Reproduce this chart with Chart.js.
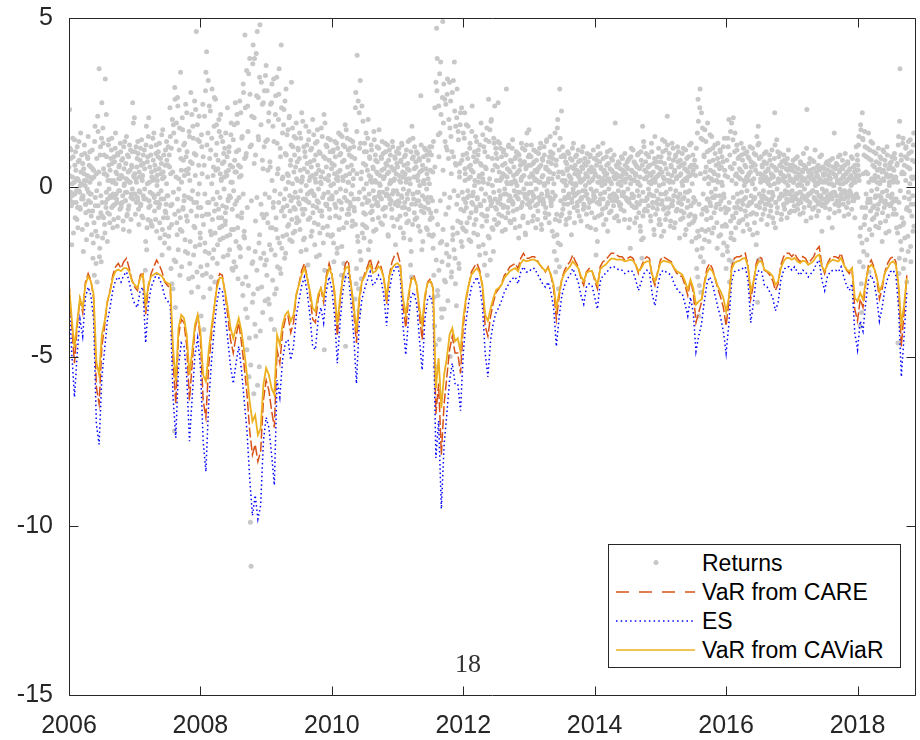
<!DOCTYPE html>
<html>
<head>
<meta charset="utf-8">
<script src="https://cdn.jsdelivr.net/npm/chart.js@4.4.1/dist/chart.umd.min.js"></script>
<style>
html,body{margin:0;padding:0;background:#fff;overflow:hidden;}
#wrap{position:relative;width:920px;height:740px;}
canvas{display:block;}
#legend{position:absolute;left:608px;top:544px;width:293px;height:124px;border:1px solid #262626;background:#fff;box-sizing:border-box;font-family:"Liberation Sans",Arial,sans-serif;font-size:23px;color:#000;}
#legend .t{position:absolute;left:93px;line-height:29px;white-space:nowrap;}
#legend svg{position:absolute;left:0;top:0;}
#pagenum{position:absolute;left:455px;top:651px;font-family:"Liberation Serif","Times New Roman",serif;font-size:26px;line-height:26px;color:#333;}
</style>
</head>
<body>
<div id="wrap">
<canvas id="c" width="920" height="740"></canvas>
<div id="legend">
  <svg width="291" height="122">
    <circle cx="47" cy="17.5" r="2.5" fill="#c8c8c8"/>
    <line x1="7" y1="47" x2="86" y2="47" stroke="#D95319" stroke-width="1.3" stroke-dasharray="13 10"/>
    <line x1="7" y1="76" x2="86" y2="76" stroke="#0000FF" stroke-width="1.5" stroke-dasharray="1.5 3.2"/>
    <line x1="7" y1="105" x2="86" y2="105" stroke="#EDB120" stroke-width="1.5"/>
  </svg>
  <div class="t" style="top:4px">Returns</div>
  <div class="t" style="top:33px">VaR from CARE</div>
  <div class="t" style="top:62px">ES</div>
  <div class="t" style="top:91px">VaR from CAViaR</div>
</div>
<div id="pagenum">18</div>
</div>
<script>
// ---------- data ----------
const xTicks = [2006, 2008, 2010, 2012, 2014, 2016, 2018];
const yTicks = [-15, -10, -5, 0, 5];
const xMin = 2006, xMax = 2018.89;
const lineStart = 2006, linePerYear = 24;     // semi-monthly readings of the risk lines
const retStart = 2006, retPerYear = 96;       // returns sets A and B, about two per week each
const retCPerYear = 48;                       // returns set C, about one per week

const caviar = [
-2.88,-3.87,-4.75,-3.96,-3.27,-3.57,-2.88,-2.63,-2.78,-3.17,
-5.15,-5.54,-4.36,-3.96,-3.37,-3.08,-2.68,-2.48,-2.43,-2.48,
-2.39,-2.39,-2.48,-2.78,-2.88,-2.98,-2.68,-2.58,-3.47,-2.88,
-2.63,-2.58,-2.53,-2.58,-2.63,-2.78,-2.83,-2.88,-4.75,-5.74,
-4.16,-3.77,-3.87,-4.36,-5.54,-4.85,-4.06,-3.77,-4.26,-5.54,
-5.74,-4.85,-4.16,-3.57,-2.98,-2.68,-2.68,-3.08,-3.57,-4.16,
-4.46,-4.16,-3.87,-4.26,-4.85,-5.54,-6.33,-6.92,-6.73,-7.32,
-7.12,-5.84,-5.34,-5.54,-5.94,-6.13,-4.36,-4.65,-4.06,-3.77,
-3.67,-3.96,-3.77,-3.17,-2.88,-2.58,-2.39,-2.68,-3.08,-3.57,
-3.67,-3.17,-2.98,-3.27,-2.68,-2.39,-2.58,-3.08,-4.06,-3.27,
-2.68,-2.39,-2.34,-2.88,-3.47,-4.26,-3.27,-2.78,-2.63,-2.43,
-2.29,-2.53,-2.48,-2.34,-2.43,-2.68,-3.27,-2.63,-2.39,-2.29,
-2.24,-2.34,-3.27,-3.77,-3.17,-2.73,-2.68,-2.88,-3.57,-4.06,
-3.17,-2.83,-2.78,-2.98,-5.94,-5.05,-6.53,-5.54,-5.05,-4.36,
-4.16,-4.55,-4.46,-4.85,-3.87,-3.27,-2.88,-2.58,-2.48,-2.39,
-2.53,-2.88,-3.77,-3.95,-3.57,-3.27,-3.03,-2.98,-2.88,-2.68,
-2.58,-2.48,-2.43,-2.39,-2.48,-2.24,-2.14,-2.19,-2.17,-2.14,
-2.14,-2.19,-2.29,-2.39,-2.48,-2.39,-2.58,-2.88,-3.57,-3.12,
-2.73,-2.53,-2.43,-2.34,-2.19,-2.29,-2.39,-2.63,-2.78,-2.53,
-2.48,-2.48,-2.68,-2.88,-2.43,-2.34,-2.29,-2.19,-2.11,-2.11,
-2.14,-2.14,-2.14,-2.19,-2.17,-2.14,-2.17,-2.29,-2.48,-2.39,
-2.24,-2.19,-2.19,-2.58,-2.78,-2.53,-2.24,-2.17,-2.19,-2.21,
-2.24,-2.39,-2.48,-2.53,-2.58,-2.78,-3.03,-2.73,-2.98,-3.47,
-3.37,-3.32,-2.88,-2.53,-2.39,-2.48,-2.68,-2.93,-3.08,-3.27,
-3.67,-3.27,-2.43,-2.24,-2.19,-2.17,-2.11,-2.09,-2.34,-3.08,
-2.78,-2.34,-2.19,-2.19,-2.43,-2.48,-2.53,-2.63,-2.88,-2.78,
-2.39,-2.19,-2.09,-2.09,-2.14,-2.09,-2.19,-2.24,-2.17,-2.19,
-2.29,-2.24,-2.17,-2.04,-1.99,-2.34,-2.48,-2.29,-2.19,-2.14,
-2.17,-2.19,-2.09,-2.29,-2.43,-2.48,-2.39,-3.27,-3.37,-3.12,
-3.32,-2.78,-2.39,-2.29,-2.39,-2.63,-3.08,-2.88,-2.53,-2.39,
-2.24,-2.19,-2.29,-2.88,-4.06,-3.47,-2.68
];

const care = [
-2.80,-4.10,-5.20,-4.10,-3.30,-3.70,-2.80,-2.55,-2.75,-3.30,
-5.90,-6.40,-4.70,-4.10,-3.40,-3.05,-2.60,-2.35,-2.25,-2.40,
-2.20,-2.10,-2.40,-2.75,-2.95,-3.05,-2.60,-2.50,-3.75,-2.95,
-2.55,-2.35,-2.15,-2.30,-2.50,-2.80,-2.90,-3.00,-5.10,-6.40,
-4.40,-3.90,-4.00,-4.70,-6.30,-5.20,-4.20,-3.80,-4.50,-6.30,
-6.80,-5.30,-4.40,-3.60,-2.90,-2.55,-2.60,-3.15,-3.80,-4.50,
-4.90,-4.40,-4.00,-4.60,-5.30,-6.10,-7.20,-7.90,-7.60,-8.10,
-7.80,-6.30,-5.70,-6.00,-6.60,-7.10,-4.80,-5.20,-4.30,-3.90,
-3.80,-4.30,-4.00,-3.20,-2.85,-2.45,-2.25,-2.65,-3.20,-3.90,
-4.00,-3.30,-3.00,-3.40,-2.60,-2.25,-2.55,-3.20,-4.40,-3.40,
-2.65,-2.25,-2.15,-2.90,-3.70,-4.60,-3.40,-2.80,-2.55,-2.35,
-2.10,-2.45,-2.40,-2.20,-2.35,-2.70,-3.45,-2.60,-2.20,-2.00,
-1.95,-2.25,-3.50,-4.15,-3.30,-2.70,-2.60,-2.90,-3.80,-4.50,
-3.30,-2.80,-2.70,-3.00,-6.70,-5.80,-7.90,-6.40,-5.60,-4.80,
-4.40,-4.90,-4.90,-5.50,-4.10,-3.35,-2.90,-2.50,-2.35,-2.25,
-2.45,-2.95,-4.10,-4.40,-3.80,-3.40,-3.10,-3.00,-2.85,-2.60,
-2.50,-2.35,-2.30,-2.25,-2.40,-2.10,-1.95,-2.10,-2.10,-2.05,
-2.05,-2.15,-2.30,-2.40,-2.50,-2.35,-2.60,-3.00,-3.90,-3.25,
-2.70,-2.45,-2.30,-2.20,-2.00,-2.20,-2.35,-2.70,-2.90,-2.50,
-2.40,-2.45,-2.75,-3.00,-2.35,-2.20,-2.15,-2.05,-1.95,-1.95,
-2.00,-2.05,-2.05,-2.15,-2.10,-2.05,-2.10,-2.30,-2.55,-2.35,
-2.15,-2.05,-2.10,-2.65,-2.90,-2.50,-2.15,-2.05,-2.10,-2.15,
-2.20,-2.40,-2.55,-2.60,-2.65,-2.90,-3.20,-2.75,-3.10,-4.00,
-3.70,-3.40,-2.85,-2.40,-2.25,-2.40,-2.70,-3.00,-3.25,-3.55,
-4.10,-3.40,-2.35,-2.10,-2.05,-2.05,-2.00,-1.95,-2.30,-3.30,
-2.85,-2.25,-2.05,-2.10,-2.45,-2.50,-2.60,-2.75,-3.05,-2.85,
-2.30,-2.05,-1.95,-1.95,-2.05,-1.95,-2.10,-2.20,-2.05,-2.10,
-2.25,-2.15,-2.05,-1.85,-1.75,-2.30,-2.55,-2.25,-2.10,-2.05,
-2.05,-2.10,-1.95,-2.25,-2.45,-2.55,-2.40,-3.60,-3.95,-3.30,
-3.55,-2.85,-2.30,-2.15,-2.35,-2.70,-3.30,-3.00,-2.50,-2.25,
-2.10,-2.05,-2.20,-3.00,-4.70,-3.70,-2.60
];

const es = [
-3.30,-4.90,-6.20,-4.90,-3.90,-4.40,-3.25,-2.95,-3.20,-3.90,
-7.00,-7.60,-5.60,-4.80,-3.95,-3.55,-3.05,-2.75,-2.65,-2.80,
-2.60,-2.50,-2.80,-3.20,-3.45,-3.55,-3.05,-2.95,-4.60,-3.45,
-2.95,-2.75,-2.55,-2.70,-2.90,-3.25,-3.35,-3.50,-6.20,-7.40,
-5.30,-4.60,-4.70,-5.60,-7.50,-6.20,-4.95,-4.45,-5.30,-7.50,
-8.40,-6.40,-5.20,-4.20,-3.40,-3.00,-3.05,-3.70,-4.50,-5.30,
-5.80,-5.20,-4.70,-5.40,-6.30,-7.20,-8.60,-9.70,-9.10,-9.80,
-9.40,-7.50,-6.80,-7.10,-7.90,-8.80,-5.70,-6.20,-5.10,-4.60,
-4.50,-5.10,-4.70,-3.80,-3.35,-2.90,-2.65,-3.10,-3.80,-4.70,
-4.80,-3.90,-3.55,-4.00,-3.05,-2.65,-3.00,-3.80,-5.20,-4.00,
-3.10,-2.65,-2.55,-3.40,-4.40,-5.80,-4.00,-3.30,-3.00,-2.75,
-2.50,-2.90,-2.80,-2.60,-2.75,-3.20,-4.10,-3.05,-2.60,-2.40,
-2.30,-2.65,-4.10,-4.95,-3.90,-3.20,-3.10,-3.45,-4.50,-5.40,
-3.90,-3.30,-3.20,-3.55,-8.00,-6.90,-9.50,-7.60,-6.70,-5.70,
-5.20,-5.80,-5.80,-6.60,-4.90,-3.95,-3.40,-2.95,-2.80,-2.65,
-2.90,-3.50,-4.90,-5.60,-4.50,-4.00,-3.70,-3.55,-3.35,-3.10,
-2.95,-2.80,-2.70,-2.65,-2.85,-2.50,-2.35,-2.50,-2.50,-2.40,
-2.40,-2.55,-2.70,-2.85,-2.95,-2.80,-3.10,-3.55,-4.70,-3.85,
-3.20,-2.90,-2.70,-2.60,-2.40,-2.60,-2.80,-3.20,-3.45,-2.95,
-2.85,-2.90,-3.25,-3.60,-2.80,-2.60,-2.55,-2.45,-2.35,-2.35,
-2.40,-2.45,-2.45,-2.55,-2.50,-2.45,-2.50,-2.75,-3.05,-2.80,
-2.55,-2.45,-2.50,-3.15,-3.50,-2.95,-2.55,-2.45,-2.50,-2.55,
-2.60,-2.85,-3.00,-3.10,-3.15,-3.45,-3.80,-3.25,-3.70,-4.85,
-4.40,-4.05,-3.40,-2.85,-2.65,-2.85,-3.20,-3.55,-3.85,-4.25,
-4.90,-4.05,-2.80,-2.50,-2.45,-2.45,-2.40,-2.35,-2.75,-4.00,
-3.40,-2.65,-2.45,-2.50,-2.90,-2.95,-3.10,-3.25,-3.65,-3.40,
-2.75,-2.45,-2.35,-2.35,-2.45,-2.35,-2.50,-2.60,-2.45,-2.50,
-2.65,-2.55,-2.45,-2.25,-2.15,-2.75,-3.05,-2.65,-2.50,-2.45,
-2.45,-2.50,-2.35,-2.65,-2.90,-3.05,-2.85,-4.30,-4.80,-3.95,
-4.25,-3.40,-2.75,-2.60,-2.80,-3.25,-3.95,-3.55,-3.00,-2.70,
-2.50,-2.45,-2.60,-3.55,-5.60,-4.40,-3.10
];

// returns read on one set of days (A), on the days in between (B) and one more set (C)
const returnsA = [
0.6,2.3,-0.4,1.1,-1.7,0.3,0.9,-0.2,1.4,-0.9,0.5,-0.1,1.2,-1.2,0.2,0.8,-0.6,1.6,0.1,-0.3,0.7,-1.9,0.4,1.0,-0.5,0.2,-1.1,0.9,1.5,-0.7,0.3,-0.2,0.6,-1.4,1.1,-2.1,0.5,-2.6,1.8,-1.3,0.4,-2.8,2.1,-0.9,3.5,-1.8,1.2,-2.2,
2.5,-1.5,1.3,0.4,-1.1,3.2,-0.6,0.9,-1.6,0.2,1.4,-0.8,0.5,-0.3,1.1,0.7,-1.2,0.2,0.9,-0.5,1.6,-0.2,0.4,1.0,-0.9,0.6,-0.1,1.3,-0.6,0.8,0.3,-1.0,1.2,0.1,-0.4,0.7,1.5,-0.8,0.2,0.9,-1.3,0.5,1.1,-0.2,0.6,2.5,1.9,0.3,
0.4,-0.8,1.2,0.6,-0.3,1.0,-1.1,0.3,0.8,-0.5,1.4,0.2,-0.9,0.7,1.1,-3.4,-1.6,1.8,-1.2,0.9,1.5,-0.4,0.6,-1.0,1.2,0.3,-0.2,0.8,1.6,-0.7,0.5,1.0,-1.3,0.2,0.9,-0.6,1.3,-1.5,0.4,0.7,-2.0,1.7,-0.9,0.3,-1.4,1.1,-0.5,0.8,
-0.9,1.2,-1.8,0.6,1.5,-2.4,-1.1,2.0,-3.0,1.6,-7.2,2.6,-2.2,1.9,-1.4,2.4,-0.7,1.1,-2.6,3.4,0.5,-1.3,1.7,0.8,-0.4,1.3,-1.9,0.9,2.2,-1.0,0.4,-2.7,1.5,-1.6,2.8,-3.1,0.7,1.8,-2.0,1.0,-1.2,2.3,4.6,-2.5,1.4,-0.6,2.1,-1.7,
-1.5,-3.8,1.2,-2.6,0.9,-4.2,2.1,-1.9,3.4,4.0,-2.3,1.6,-0.8,2.4,-3.0,1.1,-1.4,2.9,-2.1,0.6,1.8,-2.8,2.6,-0.5,1.3,-1.7,0.8,2.0,-1.2,0.4,1.5,-0.9,0.7,-1.5,1.0,0.3,-1.1,1.6,-0.6,0.9,-2.0,0.5,1.2,-1.4,-0.3,1.9,-2.4,0.6,
1.4,-2.2,0.8,2.5,-1.6,-0.4,1.9,-2.7,1.1,0.3,-1.8,2.2,-0.9,1.5,-3.2,2.8,-1.3,4.5,-3.6,1.0,-4.8,2.4,-2.9,-5.6,3.8,-9.9,-11.2,2.1,-3.4,4.2,-6.1,3.8,-1.9,-4.4,2.7,4.6,-3.0,1.4,-5.3,4.8,-2.1,3.1,-0.8,-3.7,2.5,1.2,-2.3,3.3,
3.6,-2.6,1.4,-3.3,2.2,-1.7,0.6,-3.9,2.5,-1.2,1.8,3.2,-4.2,-2.0,2.7,-3.0,1.3,-1.5,2.0,3.5,-2.4,0.9,4.2,-1.8,1.6,-0.6,2.3,-2.1,1.0,2.9,-1.4,0.4,1.7,-1.1,2.1,-0.7,0.8,3.1,-1.6,1.2,-0.3,1.5,-1.3,0.6,1.9,-0.9,0.2,1.1,
-1.0,1.6,0.5,-1.9,2.2,0.3,-0.8,1.2,-1.5,0.9,1.8,-0.4,0.7,-2.3,1.4,0.2,-0.9,1.1,0.6,-1.3,2.0,-0.2,0.8,-1.7,1.3,0.4,-0.6,1.7,-1.1,0.5,-2.0,1.0,0.3,-0.7,1.5,-1.2,0.9,-4.8,1.9,-0.5,0.6,1.2,-1.4,0.2,0.8,-0.9,1.4,-0.3,
0.7,-1.4,1.1,-2.2,0.4,0.9,-0.6,1.3,-1.8,0.2,1.6,-0.9,0.5,1.0,-2.6,1.5,0.3,-1.2,0.8,1.2,-4.7,1.7,-0.4,0.6,1.1,-0.8,0.4,1.4,-0.2,0.9,-1.0,0.5,1.2,-0.7,-3.3,2.8,-2.4,3.9,-1.6,-3.0,2.2,-1.9,1.3,-2.7,2.4,-1.1,0.7,-1.5,
1.3,-0.8,1.6,-1.2,0.5,2.0,-0.4,0.9,-1.6,0.3,1.1,-0.7,0.6,-1.3,1.4,0.2,0.8,-0.5,1.2,0.4,-0.9,1.7,0.1,-0.3,0.9,0.5,-1.1,1.0,0.3,-0.6,1.3,0.7,-0.2,0.4,-1.4,0.8,1.1,-0.5,0.2,0.6,-0.9,1.2,-0.1,0.5,0.9,-1.7,0.4,0.7,
0.6,-0.4,1.0,0.2,-1.2,0.8,1.3,-0.6,0.3,-1.5,0.9,0.4,-0.8,1.1,-0.2,0.7,-1.0,0.5,1.4,-2.3,-1.9,1.8,-1.1,0.9,0.3,1.2,-0.5,0.6,-0.9,1.0,0.2,-0.4,0.8,-1.3,2.7,-0.7,0.5,-1.6,0.9,0.1,-0.6,1.1,-1.2,0.4,-0.3,0.8,-1.4,1.2,
0.5,-0.9,1.2,-0.4,-1.8,-2.6,-4.1,-5.3,3.1,4.7,3.8,-3.2,2.4,-4.5,1.6,3.7,-3.6,-2.2,4.9,1.9,-3.6,2.6,-2.8,1.2,-1.7,3.2,-2.3,2.0,3.1,-5.0,1.5,-2.5,2.8,-1.4,0.9,3.7,-2.1,1.8,-3.5,2.9,-1.0,1.4,-2.4,0.7,2.2,-1.6,0.8,-1.2,
1.6,-0.7,2.2,0.4,-1.3,1.0,-0.3,1.8,0.6,-0.9,1.3,-1.6,0.5,2.4,-0.5,0.9,-1.1,0.2,1.5,-0.6,0.8,-1.4,1.1,0.3,-2.0,0.7,1.9,-0.8,0.4,-1.7,1.2,-2.3,0.6,1.4,-1.0,-2.6,0.9,2.6,-1.5,1.7,-0.4,2.0,-1.2,0.5,-1.9,1.3,2.4,-0.6,
1.0,-1.1,0.6,2.5,-0.8,1.3,0.2,-0.5,0.9,-1.3,0.4,1.1,-0.2,0.7,-0.9,2.9,0.3,-0.6,1.2,0.5,-1.0,0.8,0.1,-0.4,1.4,-0.7,0.6,0.2,-1.2,0.9,0.4,-0.3,1.0,-1.5,0.5,0.8,-0.6,1.3,0.3,-0.9,0.7,-0.2,1.1,-1.4,0.6,1.6,-0.5,0.9,
1.7,0.3,-0.6,0.9,0.4,-1.0,0.7,1.1,-0.3,0.5,-1.2,0.8,0.2,-0.7,1.0,0.6,-0.4,1.3,-1.1,0.3,0.8,-0.5,1.2,0.1,-0.9,0.6,1.4,-0.2,0.5,-0.8,0.9,1.5,-0.4,0.7,-1.3,1.0,0.4,-1.9,1.6,-2.5,0.8,-1.4,2.0,-3.0,1.1,2.9,-1.7,0.9,
-0.8,1.2,0.4,-0.5,0.9,0.2,-1.1,0.7,0.5,-0.3,1.0,-0.9,0.3,0.6,-1.4,0.8,0.1,1.3,-0.6,0.4,0.9,-0.2,0.5,-0.7,1.1,0.3,-0.4,0.8,-1.0,0.6,0.2,1.2,-0.5,0.7,-0.1,0.4,-0.8,1.0,0.3,-0.6,0.5,0.9,-1.2,0.6,0.2,-0.4,1.1,0.5,
-0.9,0.4,-2.0,0.8,-1.6,1.2,0.3,-0.5,1.0,0.6,-0.8,0.2,1.3,-1.1,0.5,0.1,-0.6,0.9,0.4,-1.3,0.7,0.2,-0.3,1.1,-0.7,0.5,0.8,-0.2,0.3,-0.9,1.9,0.4,-0.4,0.6,0.1,-1.0,0.7,0.3,-0.5,0.9,-0.2,0.5,0.2,-0.7,1.0,-0.3,0.4,0.6,
-0.4,0.8,-1.2,0.3,-1.8,0.9,0.5,-0.3,1.1,0.2,-0.6,0.7,0.4,-0.9,0.6,0.1,1.0,-0.5,0.3,-1.3,0.8,-2.1,1.8,-1.5,1.2,0.5,-0.4,1.0,0.3,-0.7,0.6,0.9,-0.2,0.4,-1.0,1.3,0.2,-0.6,0.7,-1.4,1.5,-0.8,0.3,0.6,-0.5,0.9,-1.1,0.4,
-1.1,0.9,-0.5,1.4,0.3,-1.3,0.7,-0.2,1.1,-0.8,2.1,0.4,-0.6,1.0,0.2,-1.0,0.6,1.3,-0.4,0.8,-1.2,0.5,0.9,-0.7,0.3,1.2,-0.3,0.6,-1.5,0.8,0.4,-0.5,1.0,-0.9,0.2,0.7,-1.4,1.1,0.5,-0.6,0.3,0.9,-1.1,0.6,-0.8,1.3,-1.6,0.4,
0.5,-1.0,0.8,-0.4,-1.5,-2.4,1.6,2.6,-3.8,-2.9,2.9,-3.1,2.2,-1.8,1.4,-2.2,0.9,1.7,-1.3,0.6,-0.7,1.9,0.3,-1.6,1.1,0.5,-0.9,1.5,-0.3,0.8,-1.2,0.4,1.0,-0.6,0.2,-1.8,1.3,0.7,-0.5,1.1,-1.4,0.6,0.9,-2.0,1.2,-0.3,0.5,-1.1,
-2.4,0.8,-1.9,1.2,2.0,-2.8,0.6,-1.5,1.9,-2.2,1.4,-0.9,0.7,1.6,-1.2,0.4,1.1,-0.6,0.3,0.9,-1.0,0.5,1.3,-0.4,0.8,-1.3,0.2,1.0,-0.7,0.6,0.3,-1.1,0.9,0.4,-0.5,1.2,-0.8,0.6,0.2,-1.4,0.7,1.0,-0.3,0.5,-1.7,1.5,-3.4,1.8,
1.3,-0.6,0.4,0.9,-0.3,0.6,-0.8,0.2,1.0,-0.5,0.3,0.7,-1.1,0.5,0.1,-0.4,0.8,-0.7,0.4,1.1,-0.9,0.3,0.6,2.2,-1.2,0.5,1.4,-0.6,0.2,0.9,-0.3,1.0,0.4,-0.8,0.6,0.2,-0.5,0.8,0.3,-0.2,0.7,-0.9,0.5,1.1,-0.4,0.2,0.6,-0.7,
0.5,-0.4,0.8,0.2,-0.7,0.6,0.3,-0.2,0.9,-0.5,0.4,0.1,-0.8,0.7,0.3,-0.3,0.5,1.0,-0.6,0.2,0.6,-1.0,2.3,-0.4,0.3,0.7,-0.2,0.5,-0.9,0.4,0.8,-0.1,0.2,-0.6,1.1,0.3,-0.4,0.6,0.1,-0.7,0.5,0.9,-0.3,0.2,-1.3,0.6,0.4,-0.5,
0.4,-0.6,0.7,0.2,-0.3,0.5,-0.9,0.3,0.8,-0.2,0.1,-1.2,0.6,0.4,1.6,-0.5,0.3,0.7,-0.4,0.2,0.9,-0.7,0.5,0.1,-0.3,0.6,0.8,-0.5,0.3,-0.1,1.0,0.4,-0.6,0.2,0.7,-0.8,0.5,0.3,-0.2,0.9,0.1,-0.4,0.6,0.2,-0.9,0.5,1.2,0.3,
0.8,0.5,1.5,-2.2,-4.1,1.7,-3.7,2.2,1.4,-1.9,-1.1,1.2,-0.6,0.9,-2.0,0.4,1.6,-2.5,1.1,-0.7,0.8,-1.4,1.3,0.2,-0.9,0.6,-0.3,1.0,-0.8,0.5,0.3,-1.2,0.7,0.9,-0.4,0.2,-1.6,1.1,0.5,-0.6,0.8,-1.0,0.4,1.2,-0.5,0.3,-1.3,0.7,
0.6,-0.3,0.9,0.2,-0.8,0.5,1.0,-0.4,0.3,-1.2,0.7,-4.6,1.5,-2.1,3.5,-1.6,0.8,-0.9,1.3,-2.4,0.4,-1.5,0.9,1.2,-2.8,0.6,-1.9,1.0,-0.7,1.4,-2.2,0.3,0.8,-1.3,1.6,-0.5
];

const returnsB = [
0.35,1.15,0.85,-0.55,-0.25,1.45,-1.35,0.15,0.65,1.05,-0.45,-0.95,0.25,0.75,1.35,-0.15,-0.65,0.45,0.95,-1.25,-0.35,0.55,1.25,0.05,-0.75,-1.55,0.35,0.85,-0.15,0.65,1.05,-0.45,-0.85,0.25,0.55,-1.65,-1.05,1.35,-0.55,-2.25,0.85,-1.45,1.65,0.45,-2.05,0.95,-0.75,1.45,
-0.85,1.75,0.55,0.95,-1.35,-0.45,2.15,0.35,-0.75,1.25,0.65,-1.05,-0.25,0.85,1.45,0.15,-0.55,-0.95,0.75,1.15,0.45,-0.35,-1.15,0.95,0.25,0.65,-0.65,1.05,0.35,-0.45,0.85,-1.25,0.55,1.35,-0.15,0.25,-0.85,0.95,0.45,-0.55,1.25,0.15,-0.95,0.65,1.05,-0.35,0.35,2.05,
1.05,0.25,-0.45,0.85,1.35,-0.65,0.45,-0.15,1.15,0.65,-0.85,0.35,0.95,-0.35,0.55,-2.45,1.25,-1.85,0.75,-0.95,2.05,0.15,-0.55,0.95,0.45,-1.15,1.45,0.25,-0.25,0.65,-0.95,1.25,0.35,-0.45,1.05,0.55,-1.05,0.85,-0.35,1.55,-1.25,0.45,0.95,-1.65,0.65,-0.75,1.35,-0.25,
0.65,-1.45,0.95,2.35,-0.55,1.15,-2.85,0.45,1.85,-2.15,2.95,-3.55,1.35,-1.05,2.65,-1.85,0.25,1.75,-1.25,0.85,-2.35,2.05,-0.65,1.25,0.35,-1.55,2.45,-0.85,1.05,-1.95,0.55,1.65,-2.25,0.75,-0.35,2.15,-2.65,1.45,-1.15,2.55,-1.75,0.95,-0.45,1.85,-2.95,0.65,1.35,-1.35,
-2.35,1.55,-0.85,2.45,-3.25,0.65,-1.65,2.85,-2.55,1.25,-0.45,3.15,-1.95,0.85,2.25,-2.65,1.45,-0.95,0.35,-1.85,2.65,-1.35,0.95,1.85,-2.25,0.55,-0.65,1.65,-1.55,2.15,0.25,-1.15,1.35,-2.05,0.75,1.15,-0.75,0.45,-1.45,2.35,-0.35,1.05,-1.85,0.65,1.55,-1.25,0.15,-2.45,
-1.25,1.85,0.45,-2.35,1.05,2.15,-0.85,0.65,-1.75,2.55,-2.05,0.35,1.45,-2.85,3.05,-1.45,0.85,2.35,-2.65,3.45,-3.85,1.65,3.35,-4.45,2.75,-5.25,1.25,-2.25,3.65,-3.15,2.05,-4.05,0.95,3.95,-2.45,-5.85,2.65,-1.65,3.25,-4.25,1.85,-2.95,2.45,0.55,-1.95,2.85,-3.35,1.35,
-2.15,2.85,-1.05,1.95,-3.45,0.75,2.45,-1.85,3.05,-2.75,-0.45,1.35,-3.15,2.15,-1.25,3.25,-2.35,0.55,2.75,-1.65,1.15,-2.55,2.35,0.25,-1.45,1.85,-0.85,2.55,-1.95,0.95,1.55,-1.15,0.35,2.05,-1.55,0.65,1.25,-0.95,1.75,-1.35,0.45,0.95,-0.65,1.45,-1.05,0.75,1.15,-0.45,
0.85,-1.25,1.45,0.15,-0.65,1.95,-1.55,0.55,1.05,-0.35,-1.85,1.25,0.45,-0.95,1.65,-0.15,0.75,-1.45,1.15,0.35,-0.75,1.55,-1.05,0.25,0.95,-2.05,1.35,0.65,-0.45,1.05,-1.35,0.15,1.75,-0.85,0.45,-1.65,2.15,-2.45,0.85,1.25,-0.55,-1.15,1.45,0.35,-0.65,1.05,-1.45,0.55,
-0.35,1.05,-1.65,0.65,1.35,-0.85,0.25,-1.95,1.15,0.45,-1.25,0.95,1.55,-0.45,-1.75,0.75,1.25,-2.25,-2.65,1.85,0.35,-1.05,1.45,0.15,-0.65,0.95,1.15,-0.55,0.65,-1.15,1.35,0.25,-0.35,0.85,2.35,-2.85,1.65,-1.45,2.55,-3.65,1.15,3.15,-2.15,0.45,-1.35,1.95,-0.75,1.05,
-1.15,0.65,1.05,-0.45,1.45,-1.85,0.35,0.85,-0.75,1.25,0.15,-0.95,0.55,1.65,-0.35,0.95,-1.25,0.45,0.75,-0.55,1.15,-0.15,0.35,-1.05,0.85,1.35,-0.65,0.25,0.55,-0.85,1.05,-0.25,0.65,1.25,-1.45,0.45,-0.35,0.95,0.15,-0.65,1.35,0.55,-1.15,0.25,0.85,-0.45,1.05,-0.95,
-0.55,1.15,0.35,-0.85,0.75,-0.25,1.25,0.45,-1.35,0.65,-0.45,0.95,0.15,-1.05,0.55,1.35,-0.65,0.25,-1.55,1.05,-2.65,0.85,1.45,-0.35,0.55,-0.95,0.75,1.05,-0.15,0.35,-1.15,0.85,0.45,-0.55,1.25,-1.85,0.65,0.15,-0.75,1.15,-0.35,0.55,0.95,-1.25,0.25,-0.65,1.05,-0.95,
-0.75,0.95,-1.45,0.45,1.35,-3.25,2.35,-4.65,-2.15,2.85,-3.05,1.55,-2.45,3.35,-1.65,2.15,-3.85,2.65,-1.25,3.05,-2.75,1.35,2.45,-1.95,2.75,-3.35,0.85,-2.05,1.75,2.55,-2.65,1.05,-1.55,3.15,-1.85,2.25,-2.85,0.65,2.05,-1.35,1.65,-2.25,0.45,1.85,-1.05,2.35,-1.75,0.95,
-1.25,1.45,0.55,-0.45,1.85,-1.05,0.85,0.25,-1.55,1.15,0.65,-0.75,1.65,-0.25,0.45,-1.35,1.05,0.75,-0.95,1.35,-0.35,0.95,-1.75,0.35,1.25,-0.55,0.65,-1.15,1.55,0.15,-0.85,1.05,-1.95,0.55,1.75,-0.65,-1.45,1.35,0.25,-2.15,1.95,-0.45,0.85,-1.25,1.45,-0.95,0.65,1.15,
-0.65,0.85,1.35,-1.05,0.45,-0.35,1.15,0.25,-0.85,0.65,1.05,-0.55,0.35,-1.25,0.95,0.15,0.55,-0.75,1.25,-0.25,0.45,-1.05,0.75,1.15,-0.45,0.35,-0.95,0.85,0.15,1.05,-0.65,0.45,-0.15,0.95,-1.15,0.65,0.25,-0.55,1.15,-0.85,0.35,0.75,-1.35,0.55,1.25,-0.35,-1.05,0.65,
0.95,-0.45,0.65,1.25,-0.15,0.35,-0.85,0.75,0.25,-0.55,1.05,0.45,-0.95,0.55,0.15,1.15,-0.35,0.65,-1.25,0.85,0.35,-0.45,0.95,-0.75,0.55,1.35,-0.25,0.15,0.75,-1.05,0.45,1.05,-0.55,0.25,0.85,-0.35,-1.45,1.25,-0.95,0.65,-2.15,1.75,-1.65,0.45,-2.35,1.45,-0.85,2.25,
0.45,-0.65,0.95,0.15,-0.35,0.75,-0.95,0.55,1.05,-0.25,0.35,-0.75,0.85,0.25,-0.45,1.15,-0.15,0.55,-1.05,0.65,0.05,0.95,-0.55,0.35,0.75,-0.85,0.45,0.15,-0.35,1.05,0.55,-0.65,0.25,0.85,-0.25,0.65,0.35,-1.15,0.75,0.15,-0.45,0.95,0.45,-0.75,0.55,0.25,-0.15,0.85,
0.35,-1.25,0.65,-0.45,0.95,-0.85,0.15,0.75,-0.35,0.55,0.25,-0.65,0.85,0.45,-0.15,0.35,-0.95,0.65,1.05,-0.45,0.25,-0.75,0.55,0.15,0.85,-0.35,0.45,-0.55,0.95,0.25,-0.25,0.65,-0.85,0.35,0.75,-0.45,0.15,0.55,-0.65,0.35,0.85,-0.15,0.45,-0.95,0.65,0.25,-0.35,0.75,
0.55,-0.35,0.85,-0.95,0.25,1.15,-0.55,0.45,-0.25,0.75,-1.05,0.35,0.65,-0.45,0.95,0.15,-0.75,0.55,-1.15,1.05,-1.55,0.65,-0.85,1.35,0.25,-0.65,0.75,0.45,-0.35,0.95,-0.55,0.15,0.65,-0.85,0.35,1.05,-0.25,0.45,-1.25,0.85,0.25,-0.45,0.75,-0.65,0.35,1.15,-0.95,0.55,
0.75,-1.45,0.45,1.05,-0.65,0.25,1.35,-0.95,0.55,-0.35,1.25,-0.75,0.85,0.15,-1.15,0.65,0.35,-0.55,1.15,-0.25,0.45,-1.05,0.95,0.25,-0.65,0.75,1.05,-0.45,0.35,-0.95,0.65,0.15,-0.35,1.15,-0.75,0.55,0.25,-1.25,0.85,-0.15,0.45,-0.85,1.25,0.35,-0.55,0.65,-1.05,0.95,
-0.45,0.65,-0.85,0.35,1.15,-1.85,-2.65,1.95,-1.45,2.35,-2.05,1.45,-1.25,1.75,-0.65,0.95,-1.55,0.45,1.35,-0.95,1.05,-0.35,-1.25,0.75,1.55,-0.55,0.25,-1.35,1.15,0.45,-0.75,1.25,-0.25,0.65,-1.05,0.85,0.35,-1.45,0.55,1.05,-0.65,0.15,-1.15,0.75,-1.65,1.45,0.35,-0.75,
-1.15,-1.75,1.45,-0.65,-2.15,0.95,1.65,-1.35,0.55,-0.85,2.05,-1.55,1.05,0.35,-0.75,1.25,-0.45,0.85,-1.05,0.55,0.25,-0.65,0.95,0.45,-0.95,1.15,-0.35,0.65,0.15,-0.85,1.05,-0.55,0.35,0.85,-1.25,0.45,0.75,-0.45,1.15,-0.75,0.25,-1.05,0.65,0.95,-0.55,-1.35,1.25,-2.15,
0.85,-0.45,0.25,-0.95,0.65,0.35,-0.25,0.75,-0.65,0.45,1.05,-0.35,0.15,0.55,-0.85,0.95,0.25,-0.55,0.65,-0.15,0.35,-1.05,0.85,1.25,-0.45,0.55,-0.75,1.05,0.25,-0.35,0.65,0.45,-0.95,0.75,-0.25,0.35,0.95,-0.65,0.15,0.55,-0.45,0.85,-0.15,0.35,-0.75,0.65,0.25,-0.35,
-0.25,0.65,0.15,-0.55,0.45,0.85,-0.35,0.25,-0.65,0.55,0.35,-0.15,0.75,-0.45,0.05,0.45,-0.75,0.65,0.25,-0.35,0.55,1.15,-0.25,0.15,0.45,-0.55,0.85,0.35,-0.15,0.25,-0.65,0.55,0.75,-0.35,0.15,0.45,-0.85,0.35,0.65,-0.25,0.25,-0.45,0.55,0.95,-0.55,0.15,0.35,-0.15,
0.55,0.15,-0.45,0.75,-0.25,0.35,0.65,-0.65,0.25,0.45,-0.35,0.85,-0.15,0.05,-0.75,0.55,0.35,-0.25,0.65,0.15,-0.55,0.45,0.95,-0.35,0.25,-0.15,0.55,0.35,-0.85,0.65,0.15,-0.25,0.45,0.75,-0.45,0.25,0.55,-0.15,0.35,-0.65,0.85,0.25,-0.35,0.45,0.65,-0.25,0.35,0.95,
0.65,1.25,0.35,-1.45,1.85,-2.85,-1.65,1.45,-2.35,0.95,1.65,-0.85,0.45,-1.55,1.15,-0.35,0.85,-1.25,-0.45,1.35,0.25,-0.95,0.65,1.05,-0.55,0.35,-1.15,0.75,0.15,-0.65,1.15,-0.25,0.55,-1.05,0.85,0.45,-0.75,0.25,1.05,-0.45,0.65,-1.35,0.35,0.95,-0.85,0.55,0.15,-0.55,
0.35,0.75,-0.45,0.55,0.15,-0.65,0.85,0.25,-0.35,0.65,-1.35,1.25,-2.55,1.95,-1.15,0.95,-1.85,0.45,1.45,-1.05,0.65,-2.15,1.15,-0.65,0.85,-1.45,1.35,-0.35,0.55,-1.75,1.05,-0.85,0.25,1.25,-1.15,0.75
];

const returnsC = [
-0.3,-0.15,0.1,-0.45,-0.2,0.25,-0.6,-0.1,0.05,-0.35,-0.25,0.2,-0.5,-0.05,-0.4,0.15,-0.2,-0.7,0.3,-0.3,-0.1,-0.55,0.1,-0.25,-0.45,-0.9,0.4,-0.15,-0.35,-0.05,0.2,-0.6,-0.2,-0.3,0.1,-0.45,-0.1,0.25,-0.5,-0.25,0.05,-0.4,-0.15,-0.65,0.15,-0.3,-0.05,-0.2,
-0.2,0.15,-0.4,-0.1,-0.55,0.3,-0.25,-0.05,-0.35,0.1,-0.6,-0.15,-1.1,0.2,-0.3,-0.45,0.05,-0.2,-0.5,-0.1,0.25,-0.35,-0.7,0.1,-0.25,-1.2,0.4,-0.5,-0.15,-0.8,0.3,-0.35,-0.05,-0.9,0.15,-0.6,-0.25,0.5,-1.0,-0.3,0.2,-0.7,-0.1,-0.45,0.35,-0.85,-0.2,0.1,
-0.6,0.4,-1.1,-0.2,-0.8,0.3,-0.45,-1.3,0.1,-0.35,-0.7,0.5,-0.15,-0.9,-0.3,0.2,-0.55,-0.05,-1.0,0.35,-0.4,-0.25,0.15,-0.65,-0.1,-0.5,0.45,-1.2,-0.3,0.6,-0.75,-0.2,-1.5,0.9,-0.6,-1.8,1.2,-0.4,-2.2,0.7,-1.0,-0.3,1.5,-1.4,-0.5,0.8,-0.9,-0.2,
-0.8,0.5,-0.3,-1.2,0.2,-0.6,-0.1,-0.9,0.4,-0.45,-0.2,-0.7,0.3,-0.35,-0.05,-0.55,0.15,-0.25,-0.4,0.1,-0.6,-0.15,0.25,-0.3,-0.5,-0.1,0.2,-0.35,-0.65,0.05,-0.2,-0.45,0.3,-0.1,-0.55,-0.25,0.15,-0.4,-0.05,-0.7,0.1,-0.3,-0.2,0.25,-0.5,-0.15,-0.35,0.05,
-0.25,0.1,-0.5,-0.15,0.3,-0.4,-0.05,-0.65,0.2,-0.3,-0.1,-0.8,0.15,-0.45,-0.2,0.05,-0.6,-1.1,0.4,-0.35,-0.15,0.25,-0.5,-0.05,-0.3,0.1,-0.4,-0.2,0.2,-0.55,-0.1,-0.3,0.15,-0.45,-0.25,0.05,-0.35,-0.15,0.3,-0.6,-0.05,-0.25,0.1,-0.4,-0.2,0.2,-0.5,-0.1,
-0.2,-0.45,0.15,-0.3,-0.05,-0.6,0.25,-0.35,-0.1,0.1,-0.5,-0.2,-0.75,0.3,-0.4,-0.15,0.05,-0.55,-0.25,0.2,-0.35,-0.05,-0.45,0.1,-0.3,-0.9,-1.4,0.6,-0.7,-1.1,0.9,-0.4,-1.6,0.5,-0.2,-0.8,1.1,-0.6,-0.3,0.4,-1.2,-0.1,0.7,-0.5,-0.25,0.3,-0.65,-0.15,
-0.35,0.2,-0.6,-0.1,-0.25,0.3,-0.45,-0.15,0.05,-0.7,-0.3,0.15,-0.5,-0.05,0.25,-0.4,-0.2,-0.85,0.1,-0.3,-0.55,0.05,-0.15,-0.35,0.2,-0.45,-0.1,-0.25,0.3,-0.6,-0.05,-0.2,0.1,-0.4,-0.3,0.15,-0.5,-0.1,-0.25,0.05,-0.35,-0.15,0.2,-0.45,-0.05,-0.3,0.1,-0.2,
-0.15,0.1,-0.4,-0.25,0.2,-0.05,-0.5,-0.3,0.15,-0.2,-0.35,0.05,-0.6,-0.1,0.25,-0.3,-0.45,-0.15,0.1,-0.25,-0.8,0.3,-1.0,-0.4,0.2,-0.1,-0.3,0.05,-0.5,-0.2,0.15,-0.35,-0.05,-0.25,0.1,-0.45,-0.15,0.2,-0.3,-0.1,-0.55,0.05,-0.2,-0.35,0.15,-0.05,-0.4,-0.25,
-0.3,-0.1,0.15,-0.45,-0.2,0.05,-0.35,-0.15,0.2,-0.5,-0.05,-0.25,0.1,-0.4,-0.2,0.25,-0.3,-0.1,-0.55,0.05,-0.25,-0.15,0.15,-0.35,-0.05,-0.45,0.1,-0.2,-0.3,0.2,-0.6,-0.1,-0.25,0.05,-0.4,-0.15,-0.7,0.25,-0.3,-0.05,-0.2,0.1,-0.45,-0.25,0.15,-0.1,-0.35,0.05,
-0.2,-0.4,0.1,-0.6,-0.15,0.2,-0.35,-0.05,-0.5,0.15,-0.25,-0.1,0.3,-0.45,-0.2,-0.7,0.05,-0.3,-0.15,0.2,-0.4,-0.1,-0.55,0.1,-0.3,-0.9,0.6,-1.3,-0.5,0.4,-0.8,-0.2,0.25,-0.6,-0.35,0.1,-0.45,-0.15,0.2,-0.3,-0.05,-0.5,0.15,-0.25,-0.4,0.05,-0.2,-0.6,
-0.7,0.3,-0.45,-1.0,0.2,-0.3,-0.6,0.1,-0.2,-0.4,0.25,-0.15,-0.5,0.05,-0.3,-0.1,0.2,-0.45,-0.25,0.1,-0.35,-0.05,-0.8,0.4,-0.2,0.15,-0.4,-0.1,-0.3,0.2,-0.5,-0.15,0.05,-0.35,-0.25,0.1,-0.45,-0.05,0.15,-0.3,-0.2,0.25,-0.55,-0.1,-0.35,0.05,-0.2,-0.4,
-0.1,0.15,-0.3,-0.2,0.05,-0.4,-0.15,0.2,-0.25,-0.05,-0.35,0.1,-0.2,-0.45,0.25,-0.1,-0.3,0.05,-0.15,-0.5,0.15,-0.25,-0.05,-0.35,0.2,-0.1,-0.4,0.1,-0.2,-0.3,0.05,-0.15,-0.25,0.15,-0.45,-0.05,-0.2,0.1,-0.35,-0.15,0.2,-0.3,-0.1,0.05,-0.25,-0.4,0.15,-0.2,
-0.3,0.2,-1.2,-0.6,0.4,-0.9,-0.2,-0.45,0.15,-0.35,-0.1,-0.6,0.25,-0.25,-0.05,-0.5,0.1,-0.3,-0.15,0.2,-0.4,-0.1,-0.25,0.05,-0.55,-0.2,0.3,-0.35,-0.8,0.15,-0.45,-0.1,0.4,-1.1,-0.3,0.2,-0.6,-0.15,0.1,-0.5,-0.25,0.3
];

// ---------- build points ----------
const linePts = arr => arr.map((v, i) => ({x: lineStart + i / linePerYear, y: v}));
const retPts = returnsA.map((v, i) => ({x: retStart + i / retPerYear, y: v}))
  .concat(returnsB.map((v, i) => ({x: retStart + (i + 0.5) / retPerYear, y: v})))
  .concat(returnsC.map((v, i) => ({x: retStart + (i + 0.25) / retCPerYear, y: v})));

const framePlugin = {
  id: 'frame',
  afterDraw(chart) {
    const {ctx, chartArea: a, scales: {x, y}} = chart;
    ctx.save();
    ctx.strokeStyle = '#262626';
    ctx.lineWidth = 1;
    const L = Math.round(a.left) + 0.5, T = Math.round(a.top) + 0.5;
    const R = Math.round(a.right) - 0.5, B = Math.round(a.bottom) + 0.5;
    ctx.beginPath();
    ctx.moveTo(L, B); ctx.lineTo(R, B); ctx.lineTo(R, T); ctx.lineTo(L, T); ctx.closePath();
    ctx.stroke();
    const tl = 9;
    ctx.beginPath();
    xTicks.forEach(v => {
      const px = Math.round(x.getPixelForValue(v)) + 0.5;
      ctx.moveTo(px, B); ctx.lineTo(px, B - tl);
      ctx.moveTo(px, T); ctx.lineTo(px, T + tl);
    });
    yTicks.forEach(v => {
      const py = Math.round(y.getPixelForValue(v)) + 0.5;
      ctx.moveTo(L, py); ctx.lineTo(L + tl, py);
      ctx.moveTo(R, py); ctx.lineTo(R - tl, py);
    });
    ctx.stroke();
    ctx.restore();
  }
};

const tickFont = {family: '"Liberation Sans", Arial, sans-serif', size: 25};

new Chart(document.getElementById('c'), {
  type: 'scatter',
  data: {
    datasets: [
      {label: 'VaR from CAViaR', data: linePts(caviar), showLine: true, pointRadius: 0,
       borderColor: '#EDB120', borderWidth: 1.8, order: 1},
      {label: 'ES', data: linePts(es), showLine: true, pointRadius: 0,
       borderColor: '#0000FF', borderWidth: 1.5, borderDash: [1.5, 2.8], order: 2},
      {label: 'VaR from CARE', data: linePts(care), showLine: true, pointRadius: 0,
       borderColor: '#D95319', borderWidth: 1.5, borderDash: [10, 3], order: 3},
      {label: 'Returns', data: retPts, showLine: false, pointRadius: 2.5, pointBorderWidth: 0,
       backgroundColor: '#c8c8c8', borderColor: '#c8c8c8', order: 4}
    ]
  },
  options: {
    responsive: false,
    animation: false,
    devicePixelRatio: 1,
    layout: {padding: {top: 18, right: 0, left: 0, bottom: 0}},
    plugins: {legend: {display: false}, tooltip: {enabled: false}},
    scales: {
      x: {
        type: 'linear', min: xMin, max: xMax,
        grid: {display: false, drawTicks: false},
        border: {display: false},
        afterBuildTicks: s => { s.ticks = xTicks.map(v => ({value: v})); },
        afterFit: s => { s.height = 45; s.paddingLeft = 0; s.paddingRight = 0; },
        ticks: {font: tickFont, color: '#262626', padding: 16, maxRotation: 0, autoSkip: false,
                callback: v => String(v)}
      },
      y: {
        type: 'linear', min: -15, max: 5,
        grid: {display: false, drawTicks: false},
        border: {display: false},
        afterBuildTicks: s => { s.ticks = yTicks.map(v => ({value: v})); },
        afterFit: s => { s.width = 69; s.paddingTop = 0; s.paddingBottom = 0; },
        ticks: {font: tickFont, color: '#262626', padding: 16, callback: v => String(v)}
      }
    }
  },
  plugins: [framePlugin]
});
</script>
</body>
</html>
